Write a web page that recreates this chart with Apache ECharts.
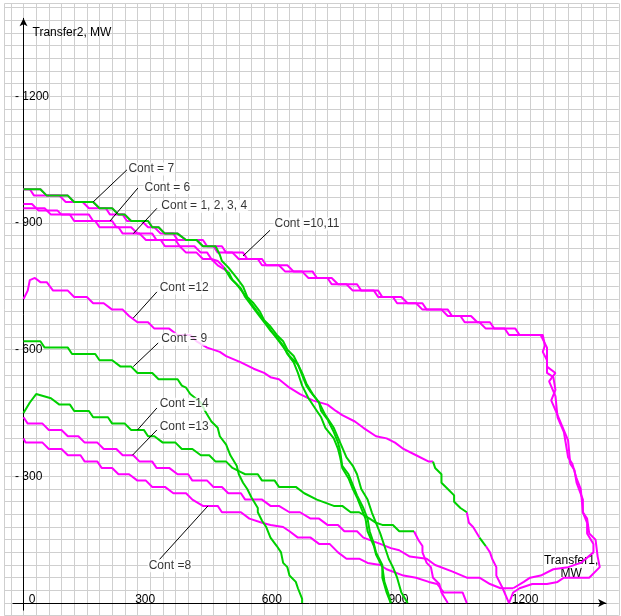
<!DOCTYPE html>
<html>
<head>
<meta charset="utf-8">
<script src="https://cdn.jsdelivr.net/npm/echarts@6/dist/echarts.min.js"></script>
<style>
html,body{margin:0;padding:0;background:#fff;}
#chart{width:621px;height:616px;}
</style>
</head>
<body>
<div id="chart"></div>
<script>
// Transfer limit boundaries, Transfer1 (x, MW) vs Transfer2 (y, MW), per contingency.
const MAGENTA = '#ff00ff';
const GREEN = '#00d000';

const xTickValues = [0, 300, 600, 900, 1200];
const yTickValues = [300, 600, 900, 1200];

// Cont = 7 (green, flat part then steep drop)
const cont7 = [[0,980],[40,980],[55,965],[105,965],[120,950],[165,950],[180,935],[210,935],[225,920],[240,920],[255,905],[295,905],[305,890],[320,890],[335,875],[365,875],[385,860],[410,860],[425,845],[455,845],[465,825],[470,810],[485,795],[505,770],[520,750],[530,725],[545,710],[560,690],[570,670],[585,655],[600,635],[615,620],[625,600],[640,585],[650,565],[660,545],[670,520],[685,495],[700,475],[705,455],[720,435],[735,405],[745,380],[750,360],[755,325],[770,305],[780,280],[790,255],[805,225],[815,200],[820,170],[830,140],[835,120],[850,90],[850,60],[860,25],[870,0]];

// Cont = 10 and Cont = 11 (magenta pair)
const cont10 = [[0,980],[15,980],[25,965],[85,965],[100,950],[140,950],[155,935],[195,935],[205,920],[235,920],[245,905],[280,905],[295,890],[310,890],[325,875],[355,875],[365,860],[410,860],[425,845],[450,845],[460,830],[495,830],[510,815],[555,815],[565,800],[605,800],[620,785],[660,785],[675,770],[720,770],[730,755],[765,755],[780,740],[830,740],[840,725],[875,725],[885,710],[930,710],[945,695],[990,695],[1005,680],[1035,680],[1045,665],[1080,665],[1095,650],[1140,650],[1150,635],[1225,635],[1240,605],[1240,560],[1260,545],[1245,525],[1260,490],[1265,440],[1280,405],[1290,345],[1300,330],[1310,295],[1320,270],[1325,215],[1335,190],[1335,165],[1350,140],[1350,120],[1320,95],[1290,85],[1255,80],[1225,65],[1200,60],[1185,50],[1160,35]];
const cont11 = [[0,980],[40,980],[55,965],[105,965],[120,950],[165,950],[180,935],[210,935],[225,920],[240,920],[255,905],[295,905],[305,890],[320,890],[335,875],[365,875],[385,860],[425,860],[435,845],[470,845],[480,830],[520,830],[530,815],[565,815],[575,800],[625,800],[640,785],[685,785],[695,770],[730,770],[745,755],[790,755],[800,740],[840,740],[850,725],[895,725],[910,710],[945,710],[955,695],[1005,695],[1015,680],[1060,680],[1075,665],[1105,665],[1115,650],[1165,650],[1175,635],[1230,635],[1235,610],[1230,595],[1240,575],[1240,545],[1255,535],[1260,505],[1250,480],[1265,445],[1290,385],[1295,330],[1305,315],[1310,285],[1325,245],[1325,215],[1335,200],[1340,165],[1355,150],[1360,110],[1365,85],[1340,60],[1280,60],[1265,50],[1240,45],[1205,45],[1175,35],[1160,25],[1150,0]];

// Cont = 6 (magenta, then green drop)
const cont6Flat = [[0,945],[20,945],[35,930],[80,930],[90,920],[155,920],[165,905],[210,905],[220,890],[255,890],[270,875],[305,875],[315,860],[360,860],[370,845],[405,845],[420,830],[435,830],[445,815],[460,810],[475,795]];
const cont6Steep = [[475,795],[490,770],[505,755],[520,735],[535,715],[550,695],[565,675],[580,655],[590,640],[605,620],[620,600],[630,585],[650,565],[660,540],[670,515],[680,500],[700,475],[715,445],[735,415],[750,380],[765,345],[780,325],[790,305],[800,270],[815,245],[825,215],[835,190],[845,165],[855,135],[865,105],[875,85],[885,60],[895,25],[910,0]];

// Cont = 1, 2, 3, 4 (magenta, then green drop)
const cont1234Flat = [[0,935],[50,935],[65,920],[110,920],[120,905],[170,905],[180,890],[225,890],[235,875],[275,875],[290,860],[325,860],[335,845],[370,845],[385,830],[410,830],[425,815],[445,815],[460,800],[485,785]];
const cont1234Steep = [[485,785],[495,765],[515,745],[525,725],[540,705],[555,685],[570,665],[585,645],[600,630],[615,610],[625,590],[640,570],[650,545],[660,515],[675,485],[695,455],[705,440],[715,415],[735,390],[745,365],[750,345],[755,320],[770,295],[780,270],[790,250],[800,225],[810,200],[815,170],[830,135],[835,115],[850,85],[855,50],[865,20],[870,0]];

// Cont = 12 (magenta with two green stretches)
const cont12A = [[0,720],[10,740],[15,765],[27,770],[40,760],[55,760],[70,740],[105,740],[120,725],[150,725],[165,710],[190,710],[210,695],[235,695],[250,680],[270,665],[295,665],[310,650],[345,650],[365,635],[395,635],[410,620],[435,605],[465,595],[480,585],[515,570],[545,555],[570,545],[585,535],[605,530],[630,510],[655,495],[685,480],[720,470],[740,455],[755,445],[785,430],[805,415],[835,395],[860,390],[880,380],[900,365],[930,350],[960,335],[970,335]];
const cont12B = [[970,335],[975,320],[990,305],[990,285],[1005,270],[1020,255],[1020,240],[1035,225],[1050,215]];
const cont12C = [[1050,215],[1055,190],[1065,180],[1080,155]];
const cont12D = [[1080,155],[1095,135]];
const cont12E = [[1095,135],[1105,120],[1110,105],[1120,85],[1120,65],[1135,35],[1150,0]];

// Cont = 9 (green)
const cont9 = [[0,620],[40,620],[50,605],[105,605],[115,590],[170,590],[180,575],[210,575],[230,560],[255,560],[270,545],[305,545],[320,530],[365,530],[375,515],[385,510],[395,495],[420,475],[430,455],[445,430],[460,415],[465,395],[480,375],[490,350],[505,325],[510,305],[520,285],[530,270],[540,250],[555,225],[555,215],[565,195],[575,180],[585,155],[600,135],[610,120],[615,95],[625,85],[630,65],[645,50],[650,35],[660,10],[660,0]];

// Cont = 14 (green, magenta near the axis)
const cont14Green = [[0,450],[15,475],[30,495],[65,485],[85,470],[110,470],[120,455],[155,455],[165,440],[200,440],[210,425],[240,425],[255,410],[285,410],[295,395],[310,395],[330,380],[360,380],[375,365],[400,365],[420,350],[440,350],[455,335],[480,335],[495,320],[515,310],[525,305],[555,305],[565,290],[595,290],[605,275],[645,275],[665,260],[695,245],[735,230],[755,230],[775,215],[795,215],[820,200],[835,190],[850,185],[875,185],[890,170],[925,170]];
const cont14Magenta = [[925,170],[935,150],[945,135],[945,120],[955,95],[965,85],[970,60],[985,45],[990,25],[1005,0]];

// Cont = 13 (magenta)
const cont13 = [[0,440],[10,425],[45,425],[60,410],[90,410],[105,395],[130,395],[145,380],[175,380],[190,365],[220,365],[235,350],[260,350],[275,335],[305,335],[315,320],[345,320],[365,305],[390,305],[400,290],[435,290],[450,275],[470,275],[485,260],[515,260],[525,245],[565,245],[585,230],[605,230],[630,215],[655,215],[680,200],[700,200],[720,185],[745,185],[760,170],[790,170],[805,155],[845,140],[870,130],[890,125],[915,110],[955,105],[975,90],[1015,75],[1050,60],[1080,60],[1105,45],[1130,35],[1160,35]];

// Cont = 8 (magenta)
const cont8 = [[0,390],[5,380],[45,380],[60,365],[90,365],[105,350],[135,350],[145,335],[175,335],[185,320],[210,320],[225,305],[250,305],[270,290],[290,290],[305,275],[335,275],[355,260],[385,260],[400,245],[425,230],[460,230],[470,215],[515,215],[535,200],[565,190],[585,185],[615,180],[630,170],[650,155],[680,155],[700,140],[725,140],[745,120],[765,105],[795,105],[815,95],[845,90],[860,80],[900,65],[930,60],[960,50],[980,45],[995,25],[1040,25],[1050,0]];

// Curve annotations: text, text anchor (left edge, middle), leader line start and end
const noteTexts = ['Cont = 7', 'Cont = 6', 'Cont = 1, 2, 3, 4', 'Cont =10,11', 'Cont =12', 'Cont = 9', 'Cont =14', 'Cont =13', 'Cont =8'];
const noteAnchors = [[245,1028],[283,984],[323,940],[591,898],[319,746],[323,625],[319,471],[319,417],[293,88]];
const noteLeaderFrom = [[245,1026],[271,983],[316,935],[584,883],[316,737],[319,616],[316,462],[316,410],[321,102]];
const noteLeaderTo = [[165,950],[205,905],[260,875],[520,822],[260,675],[260,560],[270,410],[258,350],[437,230]];

const FONT = '"Liberation Sans", Arial, sans-serif';

function curve(data, color) {
  return {
    type: 'line', xAxisIndex: 1, yAxisIndex: 1, data: data,
    symbol: 'none', showSymbol: false, silent: true, z: 2,
    lineStyle: { color: color, width: 2 }, itemStyle: { color: color }
  };
}

const series = [
  curve(cont10, MAGENTA), curve(cont11, MAGENTA),
  curve(cont6Flat, MAGENTA), curve(cont1234Flat, MAGENTA),
  curve(cont12A, MAGENTA), curve(cont12C, MAGENTA), curve(cont12E, MAGENTA),
  curve(cont13, MAGENTA), curve(cont8, MAGENTA), curve(cont14Magenta, MAGENTA),
  curve(cont7, GREEN), curve(cont6Steep, GREEN), curve(cont1234Steep, GREEN),
  curve(cont12B, GREEN), curve(cont12D, GREEN),
  curve(cont9, GREEN), curve(cont14Green, GREEN),
  {
    type: 'lines', coordinateSystem: 'cartesian2d', xAxisIndex: 1, yAxisIndex: 1,
    silent: true, z: 4, polyline: false,
    data: noteLeaderFrom.map((p, i) => ({ coords: [p, noteLeaderTo[i]] })),
    lineStyle: { color: '#000', width: 1, opacity: 1 }
  },
  {
    type: 'scatter', xAxisIndex: 1, yAxisIndex: 1, silent: true, z: 5,
    symbolSize: 1, itemStyle: { color: 'transparent' },
    data: noteTexts.map((t, i) => ({ name: t, value: noteAnchors[i] })),
    label: {
      show: true, position: 'right', distance: 0, formatter: '{b}',
      color: '#000', fontSize: 12, fontFamily: FONT,
      backgroundColor: '#fff', padding: [1, 1, 0, 1]
    }
  }
];

const chart = echarts.init(document.getElementById('chart'), null, { renderer: 'canvas' });
chart.setOption({
  animation: false,
  backgroundColor: '#fff',
  textStyle: { fontFamily: FONT, fontSize: 12, color: '#000' },
  grid: [
    { left: 4.5, right: 2.2, top: 3.5, bottom: 0.3 },
    { left: 12.95, right: 14.9, top: 18.3, bottom: 5.8 }
  ],
  xAxis: [
    {
      gridIndex: 0, type: 'value', min: -45, max: 1410, minInterval: 30, maxInterval: 30,
      axisLine: { show: false }, axisTick: { show: false }, axisLabel: { show: false },
      splitLine: { show: true, lineStyle: { color: '#cfcfcf', width: 1 } }
    },
    {
      gridIndex: 1, type: 'value', min: -25, max: 1380,
      axisLine: { show: true, onZero: true, symbol: ['none', 'arrow'], symbolSize: [6, 8], lineStyle: { color: '#000', width: 1 } },
      axisTick: { show: false },
      splitLine: { show: false },
      axisLabel: {
        show: true, inside: true, customValues: xTickValues, margin: 5,
        color: '#000', fontSize: 12, fontFamily: FONT,
        formatter: v => (v === 0 ? '{z|0}' : '{n|' + v + '}'),
        rich: {
          z: { padding: [0, 0, 0, 17], color: '#000', fontSize: 12, fontFamily: FONT },
          n: { padding: [0, 10, 0, 0], color: '#000', fontSize: 12, fontFamily: FONT }
        }
      },
      name: '{t|Transfer1,}\n{t|MW}', nameLocation: 'end', nameGap: -35,
      nameTextStyle: {
        align: 'center', verticalAlign: 'bottom', padding: [0, 0, 23, 0],
        rich: { t: { backgroundColor: '#fff', color: '#000', fontSize: 12, lineHeight: 13, fontFamily: FONT } }
      }
    }
  ],
  yAxis: [
    {
      gridIndex: 0, type: 'value', min: -30, max: 1420, minInterval: 30, maxInterval: 30,
      axisLine: { show: false }, axisTick: { show: false }, axisLabel: { show: false },
      splitLine: { show: true, lineStyle: { color: '#cfcfcf', width: 1 } }
    },
    {
      gridIndex: 1, type: 'value', min: -17, max: 1385,
      axisLine: { show: true, onZero: true, symbol: ['none', 'arrow'], symbolSize: [6, 8], lineStyle: { color: '#000', width: 1 } },
      axisTick: { show: false },
      splitLine: { show: false },
      axisLabel: {
        show: true, inside: true, customValues: yTickValues, margin: 2,
        color: '#000', fontSize: 12, fontFamily: FONT, padding: [2, 0, 0, 0],
        formatter: v => '- ' + v
      },
      name: 'Transfer2, MW', nameLocation: 'end', nameGap: -8,
      nameTextStyle: { align: 'left', verticalAlign: 'top', padding: [0, 0, 0, 9], color: '#000', fontSize: 12, fontFamily: FONT }
    }
  ],
  series: series
});
</script>
</body>
</html>
